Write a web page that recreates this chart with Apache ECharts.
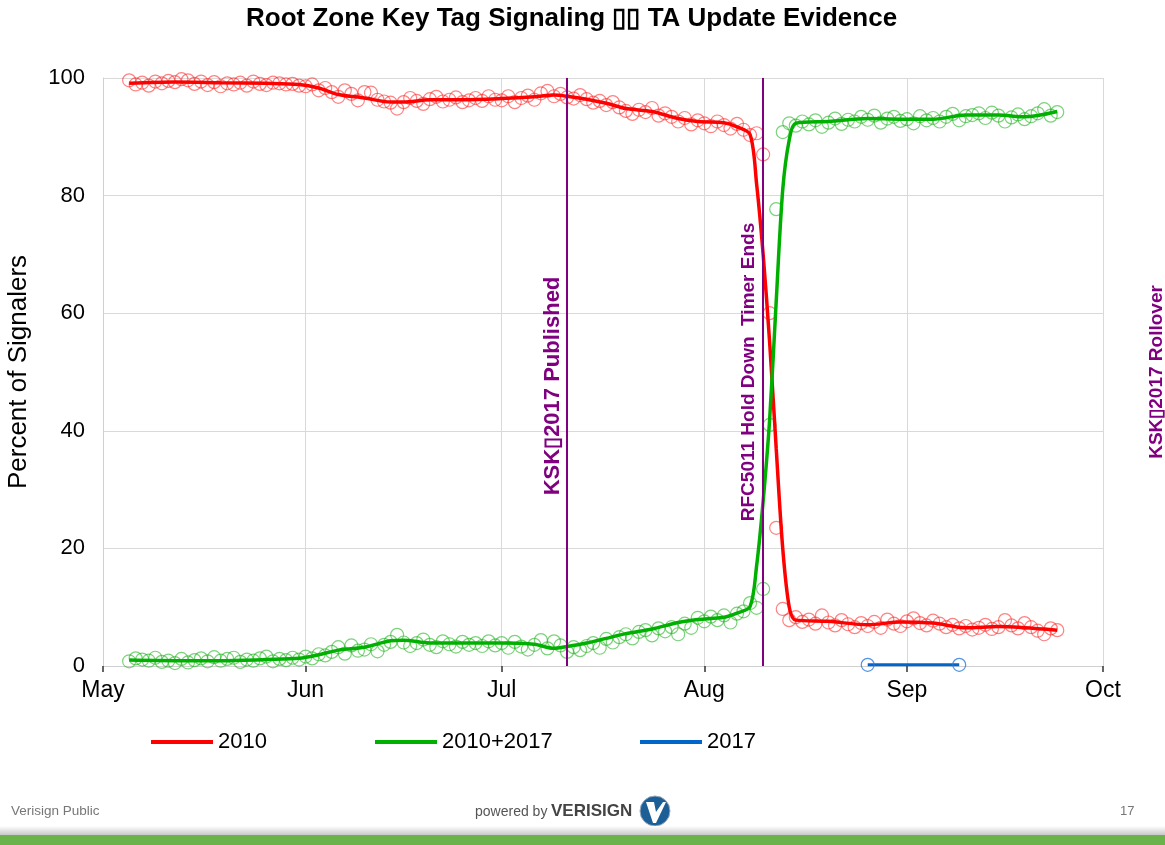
<!DOCTYPE html>
<html>
<head>
<meta charset="utf-8">
<script src="https://cdn.jsdelivr.net/npm/echarts@6/dist/echarts.min.js"></script>
<style>
html,body{margin:0;padding:0;background:#fff;}
#chart{width:1165px;height:845px;}
</style>
</head>
<body>
<div id="chart"></div>
<script>
// ---- Data ----
const firstDay = [2017, 4, 5]; // daily observations start 5 May 2017
const daily2010 = [
  99.6,98.9,99.2,98.7,99.4,99.1,99.5,99.3,99.8,99.6,99.0,99.4,98.8,99.3,98.6,99.1,98.9,99.2,98.7,99.4,99.0,98.8,99.2,99.1,98.9,99.0,98.7,
  98.6,98.9,97.9,98.3,97.6,96.8,97.9,97.3,96.2,97.6,97.5,96.3,96.0,95.8,94.8,95.9,96.6,96.1,95.6,96.4,96.8,96.0,96.3,96.7,95.9,96.2,96.6,96.1,96.9,96.3,
  96.2,96.9,95.9,96.6,97.0,96.3,97.4,97.8,96.9,97.3,96.7,96.5,97.1,96.4,95.8,96.1,95.4,95.9,95.0,94.4,93.9,94.6,94.2,94.9,93.6,94.0,93.4,92.6,93.2,92.1,92.8,
  92.3,91.8,92.6,92.0,91.4,92.2,91.2,90.3,90.6,87.0,60.0,23.5,9.7,7.8,8.3,7.5,7.9,7.2,8.6,7.4,6.9,7.8,7.1,6.6,7.3,6.8,7.5,6.5,7.9,7.2,6.8,
  7.6,8.1,7.3,6.9,7.7,7.2,6.6,7.0,6.4,6.8,6.2,6.5,7.0,6.3,6.6,7.8,6.9,6.4,7.3,6.6,6.0,5.4,6.4,6.1
];
const daily2010_2017 = [
  0.8,1.3,1.1,0.9,1.4,0.7,0.9,0.5,1.2,0.6,1.0,1.3,0.8,1.5,0.9,1.2,1.4,0.7,1.1,0.9,1.3,1.6,0.8,1.2,1.0,1.4,1.1,
  1.6,1.3,2.0,1.8,2.4,3.2,2.1,3.5,2.6,2.8,3.7,2.5,3.6,4.1,5.3,4.0,3.4,3.9,4.5,3.6,3.2,4.2,3.7,3.3,4.1,3.6,3.9,3.4,4.2,3.5,
  3.9,3.1,4.1,3.3,2.8,3.6,4.4,3.0,4.2,3.5,2.4,3.2,2.7,3.4,3.9,3.1,4.6,4.0,4.9,5.4,4.7,5.8,6.1,5.2,6.4,5.9,6.6,5.4,7.2,6.5,8.2,
  7.6,8.4,7.8,8.6,7.4,8.9,9.3,10.7,9.9,13.1,41.0,77.7,90.8,92.3,91.9,92.6,92.1,92.8,91.7,92.4,93.1,92.2,92.9,92.6,93.4,92.9,93.6,92.4,93.1,93.4,92.7,
  93.0,92.3,93.5,92.8,93.2,92.6,93.4,93.9,92.8,93.5,93.7,94.0,93.2,94.1,93.6,92.6,93.3,93.8,93.0,93.5,94.0,94.7,93.6,94.2
];
const trendDates = ['2017-05-05','2017-05-12','2017-05-19','2017-05-26','2017-05-31','2017-06-03','2017-06-06','2017-06-10','2017-06-14','2017-06-16',
  '2017-06-20','2017-06-25','2017-07-01','2017-07-06','2017-07-09','2017-07-11','2017-07-14','2017-07-17','2017-07-20','2017-07-24',
  '2017-07-28','2017-07-31','2017-08-04','2017-08-06','2017-08-08','2017-08-09','2017-08-10','2017-08-11','2017-08-12','2017-08-13',
  '2017-08-14','2017-08-15','2017-08-20','2017-08-26','2017-08-31','2017-09-05','2017-09-10','2017-09-15','2017-09-19','2017-09-24'];
const trend2010 = [99.1,99.3,99.2,99.1,98.9,98.3,97.2,96.6,95.9,95.9,
  96.3,96.3,96.5,96.8,97.1,96.9,96.4,95.7,94.8,94.3,
  93.1,92.6,92.4,91.7,90.4,82,70,55,37,20,
  10,7.8,7.6,7.0,7.5,7.3,6.5,6.7,6.5,6.1];
const trend2010_2017 = [1.0,0.9,0.9,1.1,1.3,1.9,2.7,3.2,4.3,4.4,
  3.9,3.9,3.9,3.7,3.0,3.3,3.9,4.7,5.5,6.3,
  7.4,7.9,8.3,9.0,10.1,17,28,42,62,81,
  89.5,92.3,92.6,93.1,93.0,93.0,93.7,93.7,93.4,94.3];
const dates2017 = ['2017-08-26','2017-09-09'];
const values2017 = [0.2,0.2];
const seriesNames = ['2010','2010+2017','2017'];
const seriesColors = ['#ff0000','#00b000','#0066cc'];
const yTicks = [0,20,40,60,80,100];
const events = [
  {date:'2017-07-11', label:'KSK\u25AF2017 Published', size: 22, pad: [0, 28, 0, 0], dist: 3},
  {date:'2017-08-10', label:'RFC5011 Hold Down  Timer Ends', size: 19, pad: 0, dist: 5}
];
const offAxisEvent = {date:'2017-10-11', label:'KSK\u25AF2017 Rollover', size: 19};

// ---- Build ----
const FONT = '"Liberation Sans", Arial, sans-serif';
const PURPLE = '#800080';
function dayDates(n){ const out=[]; for(let i=0;i<n;i++){ out.push(new Date(firstDay[0],firstDay[1],firstDay[2]+i).getTime()); } return out; }
const dd1 = dayDates(daily2010.length);
const dd2 = dayDates(daily2010_2017.length);
const ts = s => { const p=s.split('-').map(Number); return new Date(p[0],p[1]-1,p[2]).getTime(); };

const chart = echarts.init(document.getElementById('chart'), null, {renderer:'canvas'});
const legendBase = {
  top: 726, itemWidth: 62, itemHeight: 4, icon: 'rect', itemGap: 10,
  textStyle: {fontFamily: FONT, fontSize: 22, color: '#000'}
};
const legendLeft = [146, 370, 635];
const option = {
  backgroundColor: '#fff',
  animation: false,
  title: {
    text: 'Root Zone Key Tag Signaling \u25AF\u25AF TA Update Evidence',
    left: 241, top: 1,
    textStyle: {fontFamily: FONT, fontSize: 26, fontWeight: 'bold', color: '#000'}
  },
  legend: seriesNames.map((n, i) => Object.assign({
    left: legendLeft[i],
    data: [{name: n, itemStyle: {color: seriesColors[i], borderWidth: 0}}]
  }, legendBase)),
  grid: {left: 103, right: 62, top: 78, bottom: 179, containLabel: false, outerBoundsMode: 'none'},
  xAxis: {
    type: 'time',
    min: ts('2017-05-01'), max: ts('2017-10-01'),
    splitNumber: 5,
    axisLine: {show: true, lineStyle: {color: '#d0d0d0', width: 1}},
    axisTick: {show: true, length: 6, lineStyle: {color: '#333', width: 1.5}},
    splitLine: {show: true, lineStyle: {color: '#d9d9d9', width: 1}},
    axisLabel: {
      fontFamily: FONT, fontSize: 23, color: '#000', margin: 13,
      showMinLabel: true, showMaxLabel: true,
      formatter: v => echarts.time.format(v, '{MMM}', false)
    }
  },
  yAxis: {
    type: 'value', min: yTicks[0], max: yTicks[yTicks.length-1], interval: yTicks[1]-yTicks[0],
    name: 'Percent of Signalers', nameLocation: 'middle', nameGap: 71,
    nameTextStyle: {fontFamily: FONT, fontSize: 26, color: '#000'},
    axisLine: {show: true, lineStyle: {color: '#d0d0d0', width: 1}},
    axisTick: {show: false},
    splitLine: {show: true, lineStyle: {color: '#d9d9d9', width: 1}},
    axisLabel: {fontFamily: FONT, fontSize: 22, color: '#000', margin: 18}
  },
  series: [
    {
      name: seriesNames[0] + ' daily', type: 'scatter', symbol: 'circle', symbolSize: 13, z: 2,
      itemStyle: {color: 'rgba(255,255,255,0)', borderColor: 'rgba(255,30,30,0.7)', borderWidth: 1.2},
      data: dd1.map((d,i) => [d, daily2010[i]])
    },
    {
      name: seriesNames[1] + ' daily', type: 'scatter', symbol: 'circle', symbolSize: 13, z: 2,
      itemStyle: {color: 'rgba(255,255,255,0)', borderColor: 'rgba(20,175,20,0.7)', borderWidth: 1.2},
      data: dd2.map((d,i) => [d, daily2010_2017[i]])
    },
    {
      name: seriesNames[0], type: 'line', smooth: 0.3, showSymbol: false, z: 4,
      lineStyle: {color: seriesColors[0], width: 3.5}, itemStyle: {color: seriesColors[0]},
      data: trendDates.map((d,i) => [ts(d), trend2010[i]]),
      markLine: {
        silent: true, symbol: 'none', animation: false,
        lineStyle: {color: PURPLE, width: 2, type: 'solid'},
        label: {position: 'insideMiddleTop', color: PURPLE, fontFamily: FONT, fontWeight: 'bold'},
        data: events.map(e => ({xAxis: ts(e.date), label: {formatter: e.label, fontSize: e.size, padding: e.pad, distance: e.dist}}))
      }
    },
    {
      name: seriesNames[1], type: 'line', smooth: 0.3, showSymbol: false, z: 4,
      lineStyle: {color: seriesColors[1], width: 3.5}, itemStyle: {color: seriesColors[1]},
      data: trendDates.map((d,i) => [ts(d), trend2010_2017[i]])
    },
    {
      name: seriesNames[2], type: 'line', symbol: 'circle', symbolSize: 13, showSymbol: true, z: 4,
      lineStyle: {color: seriesColors[2], width: 3},
      itemStyle: {color: 'rgba(255,255,255,0)', borderColor: 'rgba(40,120,220,0.8)', borderWidth: 1.2},
      data: dates2017.map((d,i) => [ts(d), values2017[i]])
    }
  ]
};
chart.setOption(option);

// Off-axis event label (rollover falls after the axis end) and slide footer
const rollX = chart.convertToPixel({xAxisIndex: 0}, ts(offAxisEvent.date)) - 12;
const midY = chart.convertToPixel({yAxisIndex: 0}, 50);
chart.setOption({
  graphic: [
    {type: 'text', x: rollX, y: midY, rotation: Math.PI/2, z: 10,
      style: {text: offAxisEvent.label, fill: PURPLE, font: 'bold ' + offAxisEvent.size + 'px ' + FONT, align: 'center', verticalAlign: 'middle'}},
    {type: 'text', x: 11, y: 811, style: {text: 'Verisign Public', fill: '#777', font: '13.5px ' + FONT, verticalAlign: 'middle'}},
    {type: 'text', x: 475, y: 812, style: {text: 'powered by', fill: '#555', font: '14px ' + FONT, verticalAlign: 'middle'}},
    {type: 'text', x: 551, y: 811, style: {text: 'VERISIGN', fill: '#444', font: 'bold 17px ' + FONT, verticalAlign: 'middle'}},
    {type: 'circle', shape: {cx: 655, cy: 811, r: 15}, style: {fill: '#1c5f96', stroke: '#9ab', lineWidth: 1}},
    {type: 'polygon', shape: {points: [[646,802],[654,802],[656,812],[663,802],[666,802],[656,823],[653,823]]}, style: {fill: '#fff'}},
    {type: 'text', x: 1120, y: 811, style: {text: '17', fill: '#777', font: '13px ' + FONT, verticalAlign: 'middle'}},
    {type: 'rect', shape: {x: 0, y: 826, width: 1165, height: 9},
      style: {fill: new echarts.graphic.LinearGradient(0,0,0,1,[{offset:0,color:'#ffffff'},{offset:1,color:'#c8c8c8'}])}},
    {type: 'rect', shape: {x: 0, y: 835, width: 1165, height: 10}, style: {fill: '#6ab24a'}}
  ]
});
</script>
</body>
</html>
